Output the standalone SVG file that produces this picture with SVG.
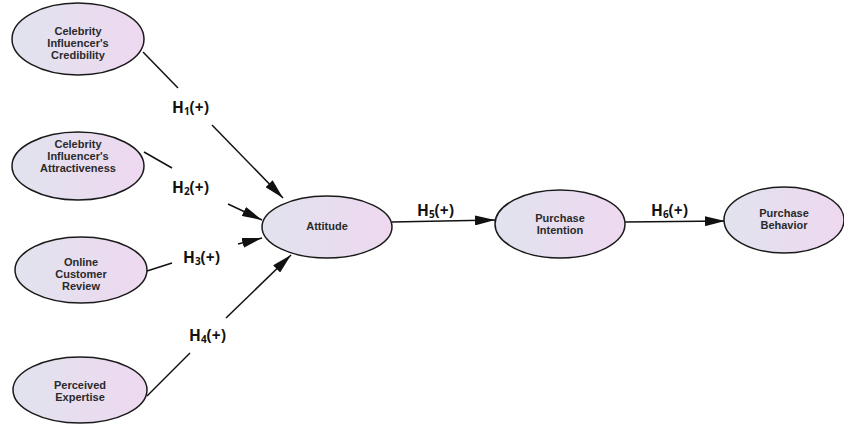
<svg xmlns="http://www.w3.org/2000/svg" width="844" height="425" viewBox="0 0 844 425">
<defs>
<linearGradient id="g" x1="0" y1="0" x2="1" y2="0">
<stop offset="0" stop-color="#e1e3ee"/>
<stop offset="1" stop-color="#eed8f0"/>
</linearGradient>
<marker id="arrL" viewBox="0 0 10 10" refX="10" refY="5" markerWidth="20" markerHeight="10" markerUnits="userSpaceOnUse" orient="auto" preserveAspectRatio="none">
<path d="M0,0 L10,5 L0,10 z" fill="#111"/>
</marker>
</defs>
<style>
.n ellipse{fill:url(#g);stroke:#1a1a1a;stroke-width:1.5}
.n text{font-family:"Liberation Sans",Arial,sans-serif;font-weight:bold;font-size:11px;fill:#2a2a2a;text-anchor:middle}
.c line{stroke:#111;stroke-width:1.5}
.l{font-family:"Open Sans","Liberation Sans",sans-serif;font-weight:bold;font-size:15.5px;fill:#111}
.l tspan.s{font-size:10px}
</style>
<rect width="844" height="425" fill="#fff"/>
<g class="c">
<line x1="143" y1="52" x2="178" y2="88"/>
<line x1="212" y1="125" x2="283" y2="198" marker-end="url(#arrL)"/>
<line x1="144" y1="152" x2="172" y2="168"/>
<line x1="228" y1="204" x2="262" y2="220" marker-end="url(#arrL)"/>
<line x1="147" y1="271" x2="172" y2="263"/>
<line x1="238" y1="244" x2="262" y2="238" marker-end="url(#arrL)"/>
<line x1="147" y1="396" x2="190" y2="353"/>
<line x1="226" y1="318" x2="291" y2="255" marker-end="url(#arrL)"/>
<line x1="392" y1="222" x2="495" y2="220" marker-end="url(#arrL)"/>
<line x1="625" y1="222" x2="725" y2="221" marker-end="url(#arrL)"/>
</g>
<g class="lbl">
<text class="l" x="172" y="113">H<tspan class="s" dy="2">1</tspan><tspan dy="-2">(+)</tspan></text>
<text class="l" x="172" y="193">H<tspan class="s" dy="2">2</tspan><tspan dy="-2">(+)</tspan></text>
<text class="l" x="183" y="263">H<tspan class="s" dy="2">3</tspan><tspan dy="-2">(+)</tspan></text>
<text class="l" x="189" y="341">H<tspan class="s" dy="2">4</tspan><tspan dy="-2">(+)</tspan></text>
<text class="l" x="417" y="216">H<tspan class="s" dy="2">5</tspan><tspan dy="-2">(+)</tspan></text>
<text class="l" x="651" y="216">H<tspan class="s" dy="2">6</tspan><tspan dy="-2">(+)</tspan></text>
</g>
<g id="credibility" class="n">
<ellipse cx="78" cy="39" rx="66" ry="36"/>
<text x="78" y="35">Celebrity</text>
<text x="78" y="47">Influencer's</text>
<text x="78" y="59">Credibility</text>
</g>
<g id="attractiveness" class="n">
<ellipse cx="78" cy="166" rx="66" ry="34"/>
<text x="78" y="148">Celebrity</text>
<text x="78" y="160">Influencer's</text>
<text x="78" y="172">Attractiveness</text>
</g>
<g id="review" class="n">
<ellipse cx="81" cy="270" rx="66" ry="33"/>
<text x="81" y="266">Online</text>
<text x="81" y="278">Customer</text>
<text x="81" y="290">Review</text>
</g>
<g id="expertise" class="n">
<ellipse cx="80" cy="390" rx="67" ry="33"/>
<text x="80" y="389">Perceived</text>
<text x="80" y="401">Expertise</text>
</g>
<g id="attitude" class="n">
<ellipse cx="327" cy="227" rx="65" ry="31"/>
<text x="327" y="230">Attitude</text>
</g>
<g id="intention" class="n">
<ellipse cx="560" cy="224" rx="65" ry="34"/>
<text x="560" y="222">Purchase</text>
<text x="560" y="234">Intention</text>
</g>
<g id="behavior" class="n">
<ellipse cx="784" cy="220" rx="60" ry="33"/>
<text x="784" y="217">Purchase</text>
<text x="784" y="229">Behavior</text>
</g>
</svg>
